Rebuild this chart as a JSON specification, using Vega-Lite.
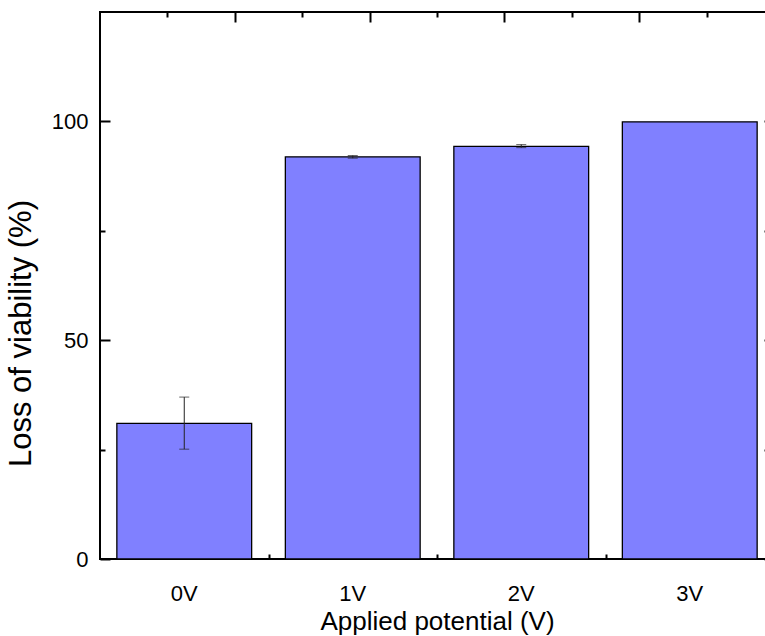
{
  "$schema": "https://vega.github.io/schema/vega-lite/v6.json",
  "width": 674,
  "height": 547,
  "autosize": "none",
  "padding": {"left": 100, "top": 12, "right": 0, "bottom": 77},
  "background": "white",
  "config": {
    "view": {"stroke": "black", "strokeWidth": 2},
    "font": "Liberation Sans",
    "axis": {
      "grid": false,
      "domainColor": "black",
      "tickColor": "black",
      "labelColor": "black",
      "titleColor": "black",
      "labelFont": "Liberation Sans",
      "titleFont": "Liberation Sans",
      "titleFontWeight": "normal"
    }
  },
  "datasets": {
    "bars": [
      {"V": "0V", "loss": 31.0},
      {"V": "1V", "loss": 91.9},
      {"V": "2V", "loss": 94.3},
      {"V": "3V", "loss": 99.9}
    ],
    "err": [
      {"V": "0V", "lo": 25.1, "hi": 37.0},
      {"V": "1V", "lo": 91.6, "hi": 92.2},
      {"V": "2V", "lo": 94.0, "hi": 94.7}
    ],
    "top": [{"t": 0}, {"t": 5}]
  },
  "layer": [
    {
      "data": {"name": "bars"},
      "mark": {"type": "bar", "fill": "#8080FF", "stroke": "black", "strokeWidth": 1.3},
      "encoding": {
        "x": {
          "field": "V", "type": "nominal",
          "scale": {"domain": ["0V", "1V", "2V", "3V"], "paddingInner": 0.2, "paddingOuter": 0.1},
          "axis": {"orient": "bottom", "ticks": false, "domain": false, "labelAngle": 0, "labelFontSize": 22, "labelPadding": 24, "title": "Applied potential (V)", "titleFontSize": 26, "titlePadding": 4}
        },
        "y": {
          "field": "loss", "type": "quantitative",
          "scale": {"domain": [0, 125], "nice": false, "zero": true},
          "axis": {"orient": "left", "ticks": false, "domain": false, "values": [0, 50, 100], "labelFontSize": 22, "labelPadding": 12, "title": "Loss of viability (%)", "titleFontSize": 31, "titlePadding": 14, "titleY": 321}
        }
      }
    },
    {
      "data": {"name": "err"},
      "mark": {"type": "rule", "color": "#222222", "strokeWidth": 1},
      "encoding": {
        "x": {
          "field": "V", "type": "nominal",
          "scale": {"domain": ["0V", "1V", "2V", "3V"], "paddingInner": 0.2, "paddingOuter": 0.1},
          "axis": {"orient": "bottom", "labels": false, "domain": false, "title": null, "ticks": true, "tickSize": -10, "tickWidth": 2}
        },
        "y": {
          "field": "lo", "type": "quantitative",
          "scale": {"domain": [0, 125], "nice": false},
          "axis": {"orient": "left", "labels": false, "domain": false, "title": null, "values": [0, 50, 100], "tickSize": -10, "tickWidth": 2}
        },
        "y2": {"field": "hi"}
      }
    },
    {
      "data": {"name": "err"},
      "mark": {"type": "tick", "color": "#222222", "size": 10, "thickness": 1},
      "encoding": {
        "x": {
          "field": "V", "type": "nominal",
          "scale": {"domain": ["0V", "1V", "2V", "3V"], "paddingInner": 0.2, "paddingOuter": 0.1},
          "axis": {"orient": "bottom", "labels": false, "domain": false, "title": null, "ticks": true, "tickSize": -5, "tickWidth": 2, "tickOffset": 84.25}
        },
        "y": {
          "field": "lo", "type": "quantitative",
          "scale": {"domain": [0, 125], "nice": false},
          "axis": {"orient": "left", "labels": false, "domain": false, "title": null, "values": [25, 75], "tickSize": -5, "tickWidth": 2}
        }
      }
    },
    {
      "data": {"name": "err"},
      "mark": {"type": "tick", "color": "#222222", "size": 10, "thickness": 1},
      "encoding": {
        "x": {
          "field": "V", "type": "nominal",
          "scale": {"domain": ["0V", "1V", "2V", "3V"], "paddingInner": 0.2, "paddingOuter": 0.1},
          "axis": null
        },
        "y": {
          "field": "hi", "type": "quantitative",
          "scale": {"domain": [0, 125], "nice": false},
          "axis": {"orient": "right", "labels": false, "domain": false, "title": null, "values": [0, 25, 50, 75, 100], "tickSize": -10, "tickWidth": 2}
        }
      }
    },
    {
      "data": {"name": "top"},
      "mark": {"type": "point", "opacity": 0},
      "encoding": {
        "x": {
          "field": "t", "type": "quantitative",
          "scale": {"domain": [0, 5], "nice": false},
          "axis": {"orient": "top", "labels": false, "domain": false, "title": null, "values": [1, 2, 3, 4], "tickSize": -10, "tickWidth": 2}
        }
      }
    },
    {
      "data": {"name": "top"},
      "mark": {"type": "point", "opacity": 0},
      "encoding": {
        "x": {
          "field": "t", "type": "quantitative",
          "scale": {"domain": [0, 5], "nice": false},
          "axis": {"orient": "top", "labels": false, "domain": false, "title": null, "values": [0.5, 1.5, 2.5, 3.5, 4.5], "tickSize": -5, "tickWidth": 2}
        }
      }
    }
  ],
  "resolve": {
    "scale": {"x": "independent"},
    "axis": {"x": "independent", "y": "independent"}
  }
}
